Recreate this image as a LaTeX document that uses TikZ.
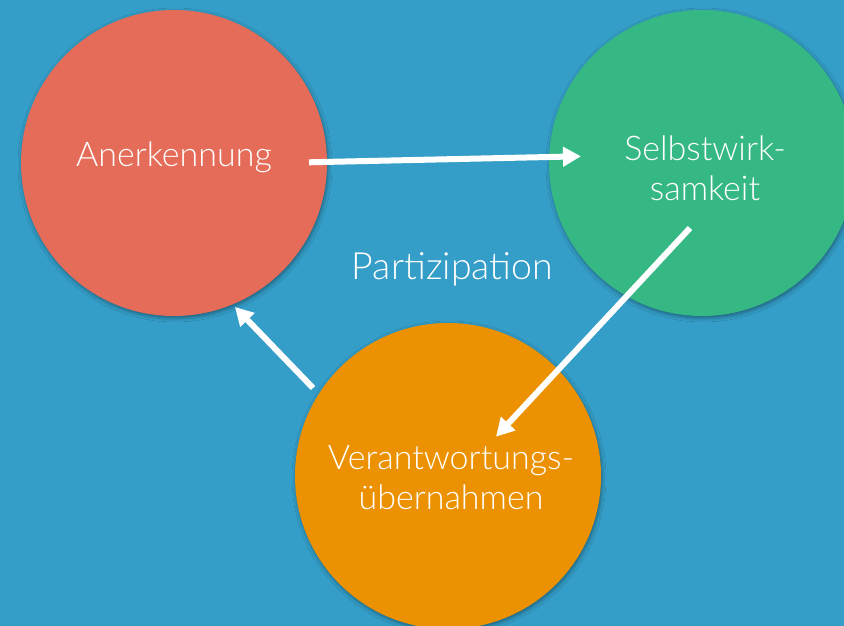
\documentclass[tikz,border=0pt]{standalone}
\usepackage{fontspec}
\setmainfont{Lato Light}
\usetikzlibrary{arrows.meta,shadows.blur}
\definecolor{bgblue}{RGB}{52,158,200}
\definecolor{discred}{RGB}{229,108,88}
\definecolor{discgreen}{RGB}{54,184,132}
\definecolor{discorange}{RGB}{236,145,1}
\begin{document}
\begin{tikzpicture}[x=1pt,y=-1pt,
  disc/.style={circle,minimum size=306pt,inner sep=0pt,
    blur shadow={shadow xshift=1pt,shadow yshift=-2pt,shadow blur radius=4pt,shadow opacity=40}},
  lbl/.style={text=white,inner sep=0pt,align=center,font=\fontsize{34}{40}\selectfont},
  flow/.style={draw=white,line width=6pt,-{Triangle[width=19pt,length=18pt]}}]
\fill[bgblue] (0,0) rectangle (844,626);
\useasboundingbox (0,0) rectangle (844,626);
\clip (0,0) rectangle (844,626);
\node[disc,fill=discred] (red) at (174,163) {};
\node[disc,fill=discgreen] (green) at (702,163) {};
\node[disc,fill=discorange] (orange) at (448,476) {};
\node[lbl,anchor=base] (t1) at (174,166) {Anerkennung};
\node[lbl] (t2) at (705,168.5) {Selbstwirk-\\samkeit};
\node[lbl] (t3) at (451,477.5) {Verantwortungs-\\übernahmen};
\node[lbl,anchor=base,font=\fontsize{37.5}{44}\selectfont] (t4) at (452.5,279.5) {Partizipation};
\coordinate (a1s) at (309,162.3);
\coordinate (a1e) at (581,156.3);
\coordinate (a2s) at (690,228);
\coordinate (a2e) at (496,436.7);
\coordinate (a3s) at (313,388);
\coordinate (a3e) at (235,307);
\draw[flow] (a1s) -- (a1e);
\draw[flow] (a2s) -- (a2e);
\draw[flow] (a3s) -- (a3e);
\end{tikzpicture}
\end{document}
